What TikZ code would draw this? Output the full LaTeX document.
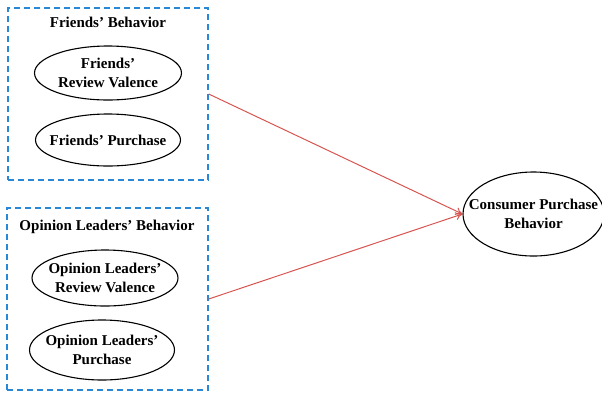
\documentclass[tikz,border=0pt]{standalone}
\usepackage{fontspec}
\setmainfont{Liberation Serif}
\usetikzlibrary{shapes.geometric,arrows.meta}
\definecolor{boxblue}{RGB}{40,135,215}
\definecolor{arrred}{RGB}{215,85,80}
\begin{document}
\begin{tikzpicture}[x=1pt,y=-1pt,
  groupbox/.style={draw=boxblue,line width=1.4pt,dash pattern=on 6pt off 4pt,rectangle,inner sep=0pt},
  oval/.style={draw=black,line width=1.1pt,ellipse,inner sep=0pt},
  lbl/.style={inner sep=0pt,align=center,font=\fontsize{15}{19}\selectfont\bfseries},
  title/.style={font=\fontsize{15}{19}\selectfont\bfseries,inner sep=0pt},
  link/.style={draw=arrred,line width=1pt,-{To[length=7pt,width=8pt]}}]
\useasboundingbox (0,0) rectangle (602,392);
\node[groupbox,minimum width=200pt,minimum height=172pt] (fb) at (108,94) {};
\node[groupbox,minimum width=201pt,minimum height=182pt] (ob) at (107.5,299) {};
\node[title] (ft) at (108,22) {Friends’ Behavior};
\node[title] (ot) at (107,227) {Opinion Leaders’ Behavior};
\node[oval,minimum width=147pt,minimum height=54pt] (frv) at (108,73) {};
\node[lbl] (frvt) at (frv) {Friends’\\Review Valence};
\node[oval,minimum width=145pt,minimum height=52pt] (fp) at (108,140) {};
\node[lbl] (fpt) at (fp) {Friends’ Purchase};
\node[oval,minimum width=146pt,minimum height=56pt] (orv) at (105,278) {};
\node[lbl] (orvt) at (orv) {Opinion Leaders’\\Review Valence};
\node[oval,minimum width=145pt,minimum height=60pt] (op) at (102,350) {};
\node[lbl] (opt) at (op) {Opinion Leaders’\\Purchase};
\node[oval,minimum width=141pt,minimum height=84pt] (cpb) at (533.5,214) {};
\node[lbl] (cpbt) at (cpb) {Consumer Purchase\\Behavior};
\draw[link] (fb.east) -- (cpb.west);
\draw[link] (ob.east) -- (cpb.west);
\end{tikzpicture}
\end{document}
